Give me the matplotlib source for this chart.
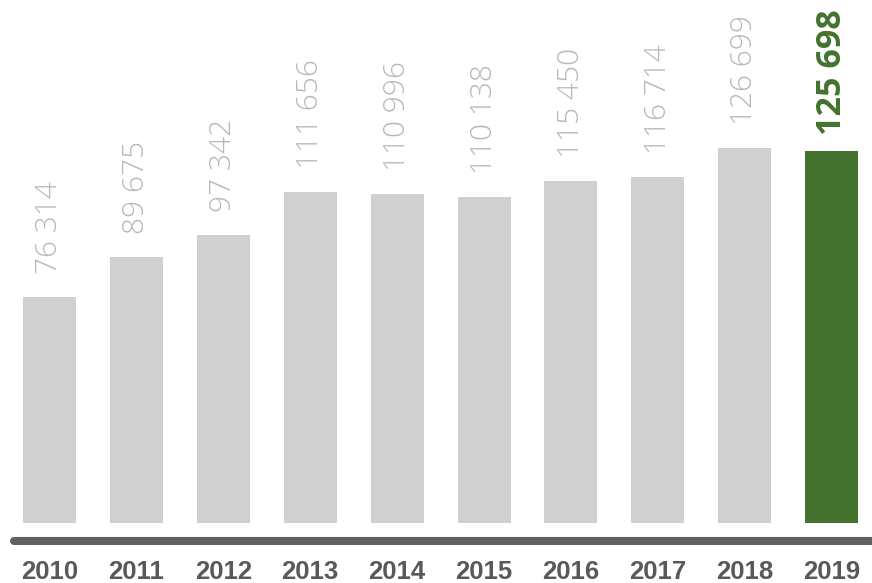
import matplotlib
matplotlib.use("Agg")
import matplotlib.pyplot as plt

years = ["2010", "2011", "2012", "2013", "2014", "2015", "2016", "2017", "2018", "2019"]
values = [76314, 89675, 97342, 111656, 110996, 110138, 115450, 116714, 126699, 125698]
labels = ["76 314", "89 675", "97 342", "111 656", "110 996", "110 138",
          "115 450", "116 714", "126 699", "125 698"]

W, H, DPI = 872, 583, 100
fig = plt.figure(figsize=(W / DPI, H / DPI), dpi=DPI)
ax = fig.add_axes([0, 0, 1, 1])
ax.set_axis_off()

# pixel mapping
x0_px, step_px = 49.5, 86.9
base_px = 523
scale = 226 / 76314.0  # px per unit
ax.set_xlim(-x0_px / step_px, (W - x0_px) / step_px)
ax.set_ylim(-(H - base_px) / scale, base_px / scale)

grey = "#d0d0d0"
green = "#43732f"
xs = list(range(len(years)))
colors = [grey] * (len(years) - 1) + [green]
ax.bar(xs, values, width=53 / step_px, color=colors, linewidth=0)

for i, (v, lab) in enumerate(zip(values, labels)):
    last = i == len(values) - 1
    off = (16 if last else 23) / scale
    ax.text(i, v + off, lab,
            rotation=90, ha="center", va="bottom",
            fontsize=24.5 if last else 21.5, family="Open Sans",
            fontweight="bold" if last else "light",
            color=green if last else "#b8b8b8")
    ax.text(i, -(572 - base_px) / scale, years[i], ha="center", va="center",
            fontsize=18.5, family="Liberation Sans", fontweight="bold",
            color="#595959")

ax.plot([(14 - x0_px) / step_px, (W + 10 - x0_px) / step_px],
        [-(541 - base_px) / scale] * 2, color="#606060", lw=5.8,
        solid_capstyle="round")

fig.savefig("out.png", dpi=DPI)
